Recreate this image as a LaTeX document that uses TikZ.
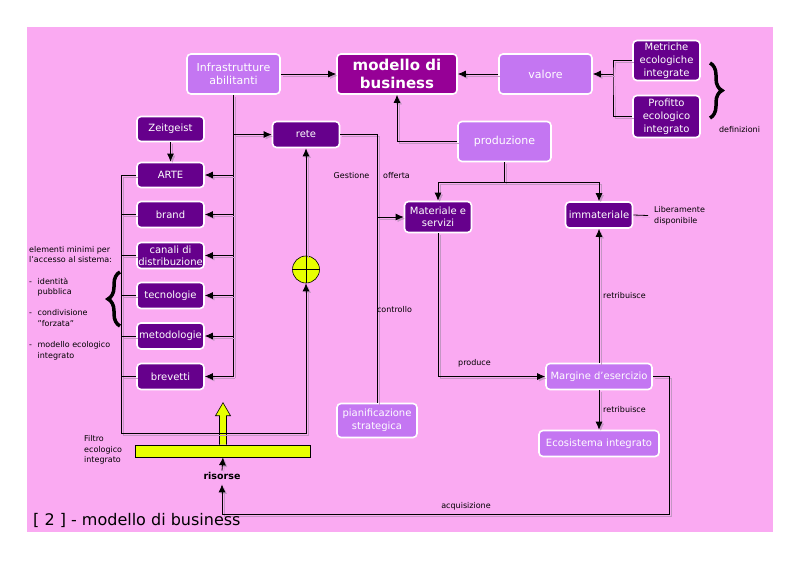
\documentclass[tikz,border=0pt]{standalone}
\usepackage{fontspec}
\setmainfont{DejaVu Sans}
\usetikzlibrary{arrows.meta,calc,positioning,decorations.pathreplacing}
\definecolor{pinkbg}{RGB}{250,170,242}
\definecolor{lightp}{RGB}{196,118,242}
\definecolor{darkp}{RGB}{102,0,140}
\definecolor{mainp}{RGB}{150,0,150}
\definecolor{shadowc}{RGB}{196,150,196}
\definecolor{yellowc}{RGB}{232,255,0}
\tikzset{lightbox/.style={
            draw=white,
            fill=lightp,
            line width=1.6pt,
            rounded corners=4pt,
            text=white,
            align=center,
            inner sep=1pt,
            minimum width=93pt,
            minimum height=40pt,
            font=\fontsize{11}{13}\selectfont
        },
        darkbox/.style={
            lightbox,
            fill=darkp,
            minimum width=67pt,
            minimum height=26pt,
            font=\fontsize{10}{12}\selectfont
        },
        mainbox/.style={
            lightbox,
            fill=mainp,
            font=\bfseries\fontsize{15}{18}\selectfont
        },
        dot/.style={
            draw,
            circle,
            fill=yellowc,
            line width=0.6pt,
            inner sep=0pt,
            minimum size=27pt
        },
        wire/.style={
            line width=0.8pt,
            preaction={draw=shadowc, transform canvas={shift={(1.8,1.8)}}}
        },
        smalltext/.style={
            font=\fontsize{8}{10.6}\selectfont,
            inner sep=0pt
        },
        thickbrace/.style={
            decorate,
            decoration={brace, amplitude=12pt},
            line width=3.5pt
        }
    }
\begin{document}
\begin{tikzpicture}[x=1pt, y=-1pt, >={Latex[length=8pt,width=7pt]}]
        \useasboundingbox (0,0) rectangle (800,565);
        \fill[white] (0,0) rectangle (800,565);
        \fill[pinkbg] (27,27) rectangle (773,532);

        % top row
        \node[lightbox] at (233.5,74) (infra) {Infrastrutture\\abilitanti};
        \node[mainbox, minimum width=120pt] at (397,74) (modello) {modello di\\business};
        \node[lightbox] at (545.5,74) (valore) {valore};
        \node[darkbox, minimum height=40pt, inner sep=0pt, font=\fontsize{10}{13}\selectfont] at (666.5,60.5) (metriche) {Metriche\\ecologiche\\integrate};
        \node[darkbox, minimum height=42pt, inner sep=0pt, font=\fontsize{10}{13}\selectfont] at (666.5,116.5) (profitto) {Profitto\\ecologico\\integrato};

        % left column
        \node[darkbox, minimum height=25pt] at (170.5,129) (zeitgeist) {Zeitgeist};
        \node[darkbox, minimum height=25pt] at (170.5,175) (arte) {ARTE};
        \node[darkbox] at (170.5,214.5) (brand) {brand};
        \node[darkbox] at (170.5,255.5) (canali) {canali di\\distribuzione};
        \node[darkbox] at (170.5,295.5) (tecnologie) {tecnologie};
        \node[darkbox] at (170.5,336) (metodologie) {metodologie};
        \node[darkbox] at (170.5,376.5) (brevetti) {brevetti};

        % middle and right
        \node[darkbox] at (306,134.5) (rete) {rete};
        \node[lightbox] at (504.5,141.5) (produzione) {produzione};
        \node[darkbox, minimum width=67pt, minimum height=31pt] at (438,217) (materiale) {Materiale e\\servizi};
        \node[darkbox] at (599,215) (immateriale) {immateriale};
        \node[lightbox, minimum width=106pt, minimum height=26pt, font=\fontsize{10}{12}\selectfont] at (599,376.5) (margine) {Margine d'esercizio};
        \node[lightbox, minimum width=120pt, minimum height=26pt, font=\fontsize{10}{12}\selectfont] at (599,443.5) (ecosistema) {Ecosistema integrato};
        \node[lightbox, minimum width=80pt, minimum height=34pt, font=\fontsize{10}{13}\selectfont] at (377,420.5) (piano) {pianificazione\\strategica};

        % filter and sum
        \node[dot] at (306,269.5) (sum) {};
        \draw[line width=0.6pt] (sum.north) -- (sum.south) (sum.west) -- (sum.east);
        \node[draw, fill=yellowc, line width=0.6pt, minimum width=175pt, minimum height=12pt, inner sep=0pt] at (223,451) (filtro) {};
        \begin{scope}[shift={(filtro.north)}]
            \draw[fill=yellowc, line width=0.6pt] (-3.5,0) -- (-3.5,-29) -- (-7.5,-29) -- (0,-42) -- (7.5,-29) -- (3.5,-29) -- (3.5,0);
        \end{scope}
        \node[font=\bfseries\fontsize{9.5}{11}\selectfont, inner sep=1pt] at (222,475.5) (risorse) {risorse};

        % connectors
        \draw[wire,->] (infra) -- (modello);
        \draw[wire,->] (valore) -- (modello);
        \coordinate (defbus) at (613,74);
        \draw[wire] (metriche.west) -| (defbus) |- (profitto.west);
        \draw[wire,->] (defbus) -- (valore.east);
        \draw[wire,->] (zeitgeist) -- (arte);
        \draw[wire] (infra.south) -- (infra.south |- brevetti.east);
        \foreach \n in {arte,brand,canali,tecnologie,metodologie,brevetti}
            \draw[wire,->] (infra.south |- \n.east) -- (\n.east);
        \draw[wire,->] (infra.south |- rete.west) -- (rete.west);
        \coordinate (loop) at (121,433);
        \draw[wire,->] (arte.west) -| (loop) -| (sum.south);
        \foreach \n in {brand,canali,tecnologie,metodologie,brevetti}
            \draw[wire] (\n.west) -- (\n.west -| loop);
        \draw[wire,->] (sum.north) -- (rete.south);
        \draw[wire] (rete.east) -| (piano.north);
        \draw[wire,->] (piano.north |- materiale.west) -- (materiale.west);
        \draw[wire,->] (produzione.west) -| (modello.south);
        \draw[wire] (produzione.south) -- ++(0,20.5) coordinate (split);
        \draw[wire,->] (split) -| (materiale.north);
        \draw[wire,->] (split) -| (immateriale.north);
        \draw[wire,->] (materiale.south) |- (margine.west);
        \draw[wire,->] (margine.north) -- (immateriale.south);
        \draw[wire,->] (margine.south) -- (ecosistema.north);
        \coordinate (acq) at (669,514);
        \draw[wire,->,shorten >=4pt] (margine.east) -| (acq) -| (risorse.south);
        \draw[wire,->] (risorse.north) -- (filtro.south);

        % labels
        \node[smalltext] at (351.5,176) (gestione) {Gestione};
        \node[smalltext] at (396.5,176) (offerta) {offerta};
        \node[smalltext] at (394.5,310) (controllo) {controllo};
        \node[smalltext] at (474.5,363) (produce) {produce};
        \node[smalltext] at (624.5,296) (retrib1) {retribuisce};
        \node[smalltext] at (624.5,410) (retrib2) {retribuisce};
        \node[smalltext] at (466,506) (acquisizione) {acquisizione};
        \node[smalltext] at (739.5,129.5) (definizioni) {definizioni};
        \node[smalltext, anchor=west, align=left] at (654,215.5) (libera) {Liberamente\\disponibile};
        \draw[wire] (immateriale.east) -- ([xshift=-6pt]libera.west);
        \node[smalltext, anchor=north west, align=left] at (84,435.5) (filtrotext) {Filtro\\ecologico\\integrato};
        \node[smalltext, anchor=north west, align=left] at (29,246) (elementi) {elementi minimi per\\l'accesso al sistema:\\[10.6pt]\makebox[8.5pt][l]{-}identità\\\hspace*{8.5pt}pubblica\\[10.6pt]\makebox[8.5pt][l]{-}condivisione\\\hspace*{8.5pt}"forzata"\\[10.6pt]\makebox[8.5pt][l]{-}modello ecologico\\\hspace*{8.5pt}integrato};
        \draw[thickbrace] (710,63) -- (710,118);
        \draw[thickbrace] (120,326) -- (120,272);
        \node[anchor=west, inner sep=0pt, font=\fontsize{16}{19}\selectfont] at (33,520) (titolo) {[ 2 ] - modello di business};
    \end{tikzpicture}
\end{document}
